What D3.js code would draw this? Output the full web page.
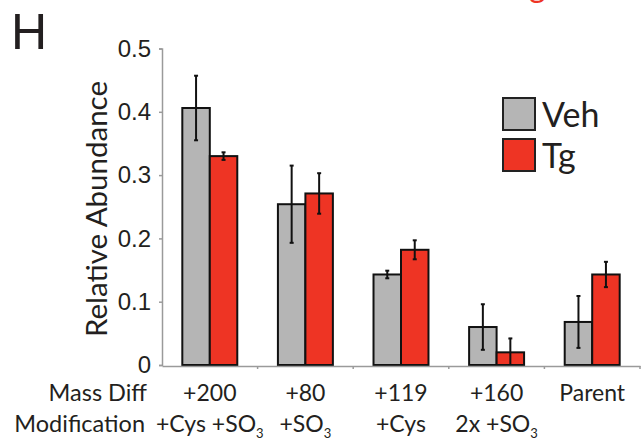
<!DOCTYPE html>
<html>
<head>
<meta charset="utf-8">
<script src="https://cdn.jsdelivr.net/npm/d3@7"></script>
<style>
  body { margin: 0; background: #fff; }
  svg { display: block; }
  text { fill: #231f20; }
</style>
</head>
<body>
<svg id="chart"></svg>
<script>
var width = 643,
    height = 442

// data
var massDiff = ["+200", "+80", "+119", "+160", "Parent"]
var modification = [["+Cys +SO", "3"], ["+SO", "3"], ["+Cys", ""], ["2x +SO", "3"], ["", ""]]
var series = ["Veh", "Tg"]
var vehMean = [0.406, 0.254, 0.143, 0.060, 0.068]
var vehErr = [0.051, 0.061, 0.006, 0.036, 0.041]
var tgMean = [0.330, 0.271, 0.182, 0.020, 0.143]
var tgErr = [0.006, 0.032, 0.015, 0.022, 0.020]
var yTicks = [0, 0.1, 0.2, 0.3, 0.4, 0.5]

var colors = { Veh: "#b5b5b5", Tg: "#ee3424" }
var labelFont = "Lato, sans-serif"

var svg = d3.select("#chart")
svg.attr("width", width)
svg.attr("height", height)

var x = d3.scaleBand()
    .domain(massDiff)
    .range([162, 640])
    .padding(0)

var groupW = x.step() * 0.575
var xs = d3.scaleBand()
    .domain(series)
    .range([0, groupW])

var y = d3.scaleLinear()
    .domain([0, 0.5])
    .range([365, 48.5])

var rows = massDiff.map(function (m, i) {
    return [
        { key: "Veh", cat: m, v: vehMean[i], e: vehErr[i] },
        { key: "Tg", cat: m, v: tgMean[i], e: tgErr[i] }
    ]
})

// panel letter + cut-off title fragment above
svg.append("text")
    .attr("x", 11)
    .attr("y", 49)
    .style("font-family", "Liberation Sans, Arial, sans-serif")
    .style("font-size", "50px")
    .text("H")

svg.append("text")
    .attr("x", 514)
    .attr("y", -3)
    .style("font-family", labelFont)
    .style("font-size", "32px")
    .style("fill", "#ee3424")
    .text("Tg")

// y axis
var yAxis = svg.append("g")
    .attr("transform", "translate(162,0)")
    .call(d3.axisLeft(y).tickValues(yTicks).tickSize(3).tickPadding(8)
        .tickFormat(function (d) { return d === 0 ? "0" : d3.format(".1f")(d) }))
yAxis.select(".domain").attr("stroke", "#9a9a9a").attr("stroke-width", 1.5)
yAxis.selectAll(".tick line").attr("stroke", "#9a9a9a").attr("stroke-width", 1.5)
yAxis.selectAll(".tick text")
    .style("font-family", "Liberation Sans, Arial, sans-serif")
    .style("font-size", "24px")
    .style("fill", "#231f20")

svg.append("text")
    .attr("transform", "translate(107,209) rotate(-90)")
    .attr("text-anchor", "middle")
    .style("font-family", labelFont)
    .style("font-size", "29.5px")
    .text("Relative Abundance")

// bars
var groups = svg.append("g")
    .selectAll("g")
    .data(rows)
    .enter().append("g")
    .attr("transform", function (d) {
        return "translate(" + (x(d[0].cat) + (x.bandwidth() - groupW) / 2) + ",0)"
    })

groups.selectAll("rect")
    .data(function (d) { return d })
    .enter().append("rect")
    .attr("x", function (d) { return xs(d.key) })
    .attr("y", function (d) { return y(d.v) })
    .attr("width", xs.bandwidth())
    .attr("height", function (d) { return y(0) - y(d.v) })
    .attr("fill", function (d) { return colors[d.key] })
    .attr("stroke", "#111")
    .attr("stroke-width", 2)

// error bars
var err = groups.selectAll("g.err")
    .data(function (d) { return d })
    .enter().append("g")
    .attr("class", "err")
    .attr("transform", function (d) { return "translate(" + (xs(d.key) + xs.bandwidth() / 2) + ",0)" })

err.append("line")
    .attr("y1", function (d) { return y(d.v + d.e) })
    .attr("y2", function (d) { return y(Math.max(0, d.v - d.e)) })
    .attr("stroke", "#111")
    .attr("stroke-width", 2)
err.append("line")
    .attr("x1", -2).attr("x2", 2)
    .attr("y1", function (d) { return y(d.v + d.e) })
    .attr("y2", function (d) { return y(d.v + d.e) })
    .attr("stroke", "#111")
    .attr("stroke-width", 2)
err.append("line")
    .attr("x1", -2).attr("x2", 2)
    .attr("y1", function (d) { return y(Math.max(0, d.v - d.e)) })
    .attr("y2", function (d) { return y(Math.max(0, d.v - d.e)) })
    .attr("stroke", "#111")
    .attr("stroke-width", 2)

// x axis (ticks sit between categories)
var xAxis = svg.append("g")
    .attr("transform", "translate(0,366)")
    .call(d3.axisBottom(x).tickSize(0).tickPadding(19))
xAxis.select(".domain").attr("stroke", "#9a9a9a").attr("stroke-width", 1.5)
xAxis.selectAll(".tick text")
    .style("font-family", labelFont)
    .style("font-size", "23px")
    .style("fill", "#231f20")

xAxis.selectAll("line.sep")
    .data(massDiff.slice(1).concat([null]))
    .enter().append("line")
    .attr("class", "sep")
    .attr("x1", function (d, i) { return x.range()[0] + x.step() * (i + 1) })
    .attr("x2", function (d, i) { return x.range()[0] + x.step() * (i + 1) })
    .attr("y1", 0)
    .attr("y2", 3)
    .attr("stroke", "#9a9a9a")
    .attr("stroke-width", 1.5)

// second label row with subscripts
var mod = svg.append("g")
    .selectAll("text")
    .data(modification)
    .enter().append("text")
    .attr("x", function (d, i) { return x(massDiff[i]) + x.bandwidth() / 2 })
    .attr("y", 432)
    .attr("text-anchor", "middle")
    .style("font-family", labelFont)
    .style("font-size", "23px")
mod.append("tspan").text(function (d) { return d[0] })
mod.append("tspan")
    .attr("dy", 6)
    .style("font-size", "13px")
    .text(function (d) { return d[1] })

svg.append("text")
    .attr("x", 147)
    .attr("y", 401)
    .attr("text-anchor", "end")
    .style("font-family", labelFont)
    .style("font-size", "23.5px")
    .text("Mass Diff")
svg.append("text")
    .attr("x", 145)
    .attr("y", 432)
    .attr("text-anchor", "end")
    .style("font-family", labelFont)
    .style("font-size", "23.5px")
    .text("Modification")

// legend
var legend = svg.append("g")
    .selectAll("g")
    .data(series)
    .enter().append("g")
    .attr("transform", function (d, i) { return "translate(503," + (98 + i * 41) + ")" })
legend.append("rect")
    .attr("width", 32)
    .attr("height", 32)
    .attr("fill", function (d) { return colors[d] })
    .attr("stroke", "#222")
    .attr("stroke-width", 2)
legend.append("text")
    .attr("x", 39)
    .attr("y", 29)
    .style("font-family", labelFont)
    .style("font-size", "34px")
    .text(function (d) { return d })
</script>
</body>
</html>
